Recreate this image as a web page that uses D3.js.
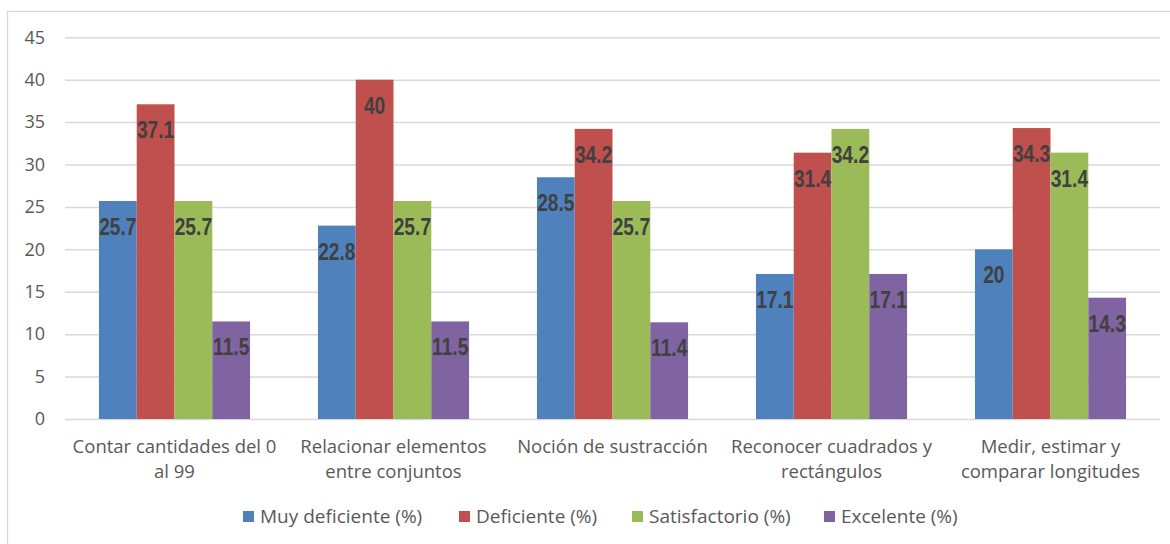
<!DOCTYPE html>
<html>
<head>
<meta charset="utf-8">
<script src="https://cdn.jsdelivr.net/npm/d3@7"></script>
<style>
  html, body { margin: 0; padding: 0; background: #fff; }
  svg { display: block; }
</style>
</head>
<body>
<svg id="chart" width="1170" height="544"></svg>
<script>
const categories = [
  ["Contar cantidades del 0", "al 99"],
  ["Relacionar elementos", "entre conjuntos"],
  ["Noción de sustracción"],
  ["Reconocer cuadrados y", "rectángulos"],
  ["Medir, estimar y", "comparar longitudes"]
];
const seriesNames = ["Muy deficiente (%)", "Deficiente (%)", "Satisfactorio (%)", "Excelente (%)"];
const muyDeficiente = [25.7, 22.8, 28.5, 17.1, 20];
const deficiente = [37.1, 40, 34.2, 31.4, 34.3];
const satisfactorio = [25.7, 25.7, 25.7, 34.2, 31.4];
const excelente = [11.5, 11.5, 11.4, 17.1, 14.3];
const yTicks = [0, 5, 10, 15, 20, 25, 30, 35, 40, 45];
const colors = ["#4F81BD", "#C0504D", "#9BBB59", "#8064A2"];

const seriesValues = [muyDeficiente, deficiente, satisfactorio, excelente];
const svg = d3.select("#chart");

const plotLeft = 65, plotRight = 1160, plotTop = 37.3, plotBottom = 419;
const sansFont = "'Open Sans', 'Noto Sans', sans-serif";

const y = d3.scaleLinear().domain([0, 45]).range([plotBottom, plotTop]);
const x0 = d3.scaleBand().domain(d3.range(categories.length)).range([plotLeft, plotRight])
  .paddingInner(0.31).paddingOuter(0.155);
const x1 = d3.scaleBand().domain(d3.range(seriesNames.length)).range([0, x0.bandwidth()]);

// border
svg.append("rect").attr("x", 7.5).attr("y", 11.5).attr("width", 1175).attr("height", 545)
  .attr("fill", "none").attr("stroke", "#D9D9D9").attr("stroke-width", 1.3);

// gridlines + y labels
const yAxis = d3.axisLeft(y).tickValues(yTicks).tickSize(-(plotRight - plotLeft)).tickPadding(20);
const gy = svg.append("g").attr("transform", `translate(${plotLeft},0)`).call(yAxis);
gy.select(".domain").remove();
gy.selectAll(".tick line").attr("stroke", "#D9D9D9").attr("stroke-width", 1.5);
gy.selectAll(".tick text").attr("fill", "#595959")
  .style("font-family", sansFont).style("font-size", "18px");

// bars
const groups = svg.append("g").selectAll("g").data(categories).join("g")
  .attr("transform", (d, i) => `translate(${x0(i)},0)`);

groups.each(function(d, ci) {
  const g = d3.select(this);
  seriesValues.forEach((vals, si) => {
    const v = vals[ci];
    g.append("rect")
      .attr("x", x1(si)).attr("y", y(v))
      .attr("width", x1.bandwidth()).attr("height", y(0) - y(v))
      .attr("fill", colors[si]);
  });
  seriesValues.forEach((vals, si) => {
    const v = vals[ci];
    const t = g.append("text")
      .attr("x", x1(si) + x1.bandwidth() / 2).attr("y", y(v) + 34)
      .attr("text-anchor", "middle")
      .attr("fill", "#404040")
      .style("font-family", "'Liberation Sans', Arial, sans-serif")
      .style("font-weight", "bold").style("font-size", "24px")
      .text(String(v));
    const len = t.node().getComputedTextLength();
    t.attr("textLength", len * 0.8).attr("lengthAdjust", "spacingAndGlyphs");
  });
});

// category labels
const cat = svg.append("g").selectAll("text").data(categories).join("text")
  .attr("x", (d, i) => x0(i) + x0.bandwidth() / 2)
  .attr("y", 452.5)
  .attr("text-anchor", "middle")
  .attr("fill", "#595959")
  .style("font-family", sansFont).style("font-size", "18.5px");
cat.each(function(lines) {
  const t = d3.select(this);
  lines.forEach((l, k) => {
    t.append("tspan").attr("x", t.attr("x")).attr("dy", k === 0 ? 0 : 25).text(l);
  });
});

// legend
const legendX = [243, 459, 632, 824];
const leg = svg.append("g").selectAll("g").data(seriesNames).join("g")
  .attr("transform", (d, i) => `translate(${legendX[i]},511)`);
leg.append("rect").attr("width", 11).attr("height", 11).attr("fill", (d, i) => colors[i]);
leg.append("text").attr("x", 17).attr("y", 12).attr("fill", "#595959")
  .style("font-family", sansFont).style("font-size", "19px")
  .text(d => d);
</script>
</body>
</html>
